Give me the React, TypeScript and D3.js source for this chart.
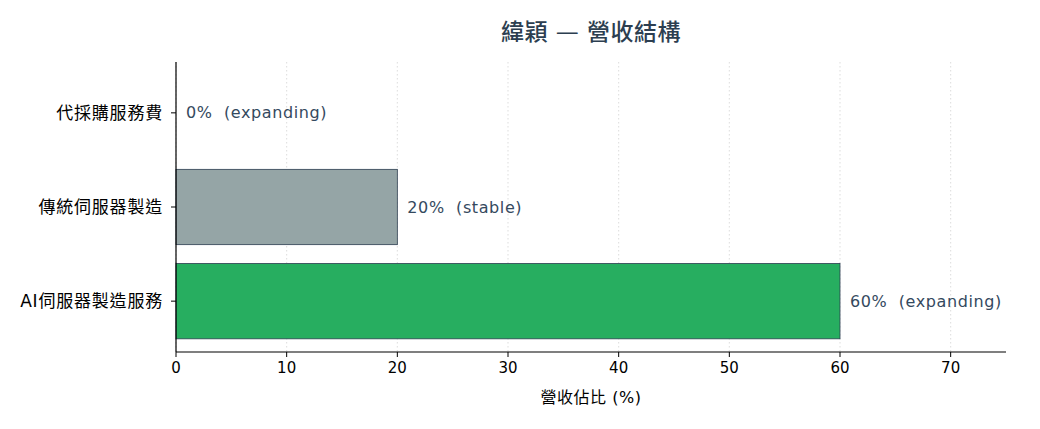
import React from "react";
import * as d3 from "d3";

const categories = ["AI伺服器製造服務", "傳統伺服器製造", "代採購服務費"];
const values = [60, 20, 0];
const statuses = ["expanding", "stable", "expanding"];
const barColors = ["#27ae60", "#95a5a6", "#95a5a6"];
const xTicks = [0, 10, 20, 30, 40, 50, 60, 70];
const title = "緯穎 — 營收結構";
const xLabel = "營收佔比 (%)";

const W = 1040;
const H = 429;
const FONT = "'DejaVu Sans', 'Noto Sans CJK TC', sans-serif";

export default function App() {
  const x = d3.scaleLinear().domain([0, 75]).range([176, 1006]);
  const y = d3.scaleLinear().domain([-0.54, 2.54]).range([352, 62]);
  const barH = 0.8;
  const top = y(2.54);
  const bottom = y(-0.54);
  return (
    <svg
      width={W}
      height={H}
      style={{ position: "absolute", left: 0, top: 0, background: "#fff" }}
      fontFamily={FONT}
    >
      {xTicks.map((t) => (
        <line
          key={"g" + t}
          x1={x(t)}
          x2={x(t)}
          y1={top}
          y2={bottom}
          stroke="#cccccc"
          strokeWidth={0.8}
          strokeDasharray="1.5,2.5"
          opacity={0.8}
        />
      ))}
      {categories.map((c, i) => (
        <rect
          key={"b" + c}
          x={x(0)}
          y={y(i + barH / 2)}
          width={x(values[i]) - x(0)}
          height={y(i - barH / 2) - y(i + barH / 2)}
          fill={barColors[i]}
          stroke="#2c3e50"
          strokeWidth={values[i] === 0 ? 0 : 0.8}
        />
      ))}
      {categories.map((c, i) => (
        <text
          key={"v" + c}
          x={x(values[i]) + 10}
          y={y(i)}
          dy="0.35em"
          fontSize={16}
          letterSpacing={0.6}
          fill="#34495e"
          style={{ whiteSpace: "pre" }}
        >
          {`${values[i]}%  (${statuses[i]})`}
        </text>
      ))}
      <line x1={x(0)} x2={x(0)} y1={top} y2={bottom} stroke="#000" strokeWidth={1.2} />
      <line x1={x(0)} x2={x(75)} y1={bottom} y2={bottom} stroke="#000" strokeWidth={1.2} />
      {categories.map((c, i) => (
        <g key={"yt" + c}>
          <line x1={x(0) - 5} x2={x(0)} y1={y(i)} y2={y(i)} stroke="#000" strokeWidth={1} />
          <text
            x={x(0) - 13}
            y={y(i)}
            dy="0.35em"
            textAnchor="end"
            fontSize={17}
            letterSpacing={0.8}
            fill="#000"
          >
            {c}
          </text>
        </g>
      ))}
      {xTicks.map((t) => (
        <g key={"xt" + t}>
          <line x1={x(t)} x2={x(t)} y1={bottom} y2={bottom + 5} stroke="#000" strokeWidth={1} />
          <text x={x(t)} y={bottom + 21} textAnchor="middle" fontSize={15} fill="#000">
            {t}
          </text>
        </g>
      ))}
      <text
        x={(x(0) + x(75)) / 2}
        y={403}
        textAnchor="middle"
        fontSize={16}
        letterSpacing={0.5}
        fill="#000"
      >
        {xLabel}
      </text>
      <text
        x={(x(0) + x(75)) / 2}
        y={40}
        textAnchor="middle"
        fontSize={23}
        fontWeight={500}
        letterSpacing={0.5}
        fill="#2c3e50"
      >
        {title}
      </text>
    </svg>
  );
}
